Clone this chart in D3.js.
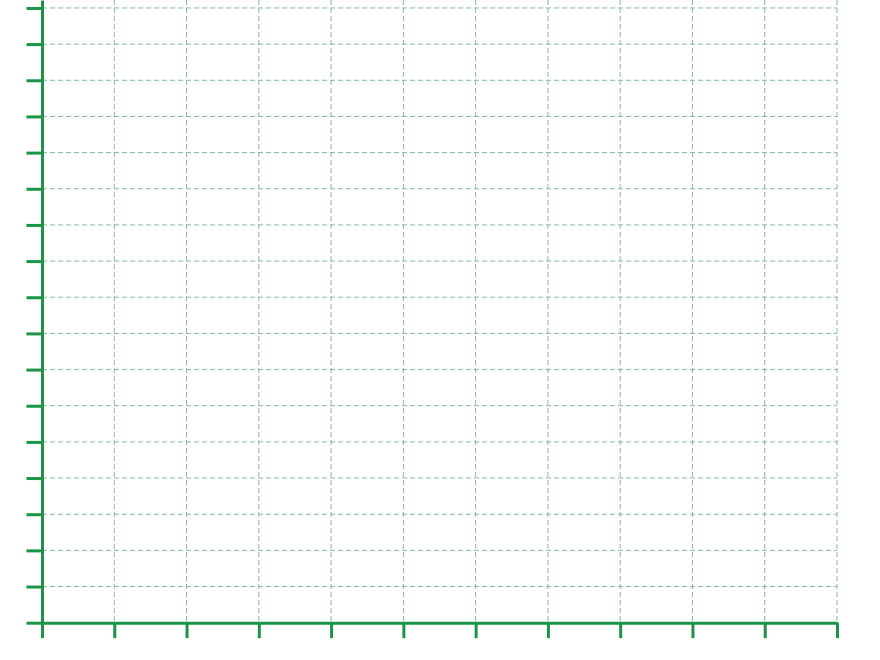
<!DOCTYPE html>
<html>
<head>
<meta charset="utf-8">
<script src="https://cdn.jsdelivr.net/npm/d3@7"></script>
<style>
  body { margin: 0; background: #fff; }
  svg { display: block; }
</style>
</head>
<body>
<div id="chart"></div>
<script>
// Valeurs des graduations (grille vide, sans libelles)
const xTicks = [0, 1, 2, 3, 4, 5, 6, 7, 8, 9, 10, 11];
const yTicks = [0, 1, 2, 3, 4, 5, 6, 7, 8, 9, 10, 11, 12, 13, 14, 15, 16, 17];
const xMax = 11;
const yMax = 17.22;

const width = 880, height = 660;
const margin = {top: 0, right: 43, bottom: 37.3, left: 42};
const axisColor = "#1b9447", gridColor = "#86b99c";

const svg = d3.select("#chart")
    .append("svg")
    .attr("width", width)
    .attr("height", height);

const x = d3.scaleLinear()
    .domain([0, xMax])
    .range([margin.left, width - margin.right]);
const y = d3.scaleLinear()
    .domain([0, yMax])
    .range([height - margin.bottom, margin.top]);

// Grille pointillee
svg.append("g")
    .selectAll("line")
    .data(xTicks.filter(d => d > 0))
    .join("line")
    .attr("x1", d => x(d)).attr("x2", d => x(d))
    .attr("y1", y(yMax)).attr("y2", y(0))
    .attr("stroke", gridColor)
    .attr("stroke-width", 1)
    .attr("stroke-dasharray", "5,3");

svg.append("g")
    .selectAll("line")
    .data(yTicks.filter(d => d > 0))
    .join("line")
    .attr("x1", x(0)).attr("x2", x(xMax))
    .attr("y1", d => y(d)).attr("y2", d => y(d))
    .attr("stroke", gridColor)
    .attr("stroke-width", 1)
    .attr("stroke-dasharray", "5,3");

// Axe X
const gx = svg.append("g")
    .attr("transform", `translate(0, ${y(0)})`)
    .call(d3.axisBottom(x).tickValues(xTicks).tickSize(15.5).tickSizeOuter(0).tickFormat(""));

// Axe Y
const gy = svg.append("g")
    .attr("transform", `translate(${x(0)}, 0)`)
    .call(d3.axisLeft(y).tickValues(yTicks).tickSize(15.5).tickSizeOuter(0).tickFormat(""));

[gx, gy].forEach(g => {
    g.selectAll("path, line")
        .attr("stroke", axisColor)
        .attr("stroke-width", 3);
});
</script>
</body>
</html>
